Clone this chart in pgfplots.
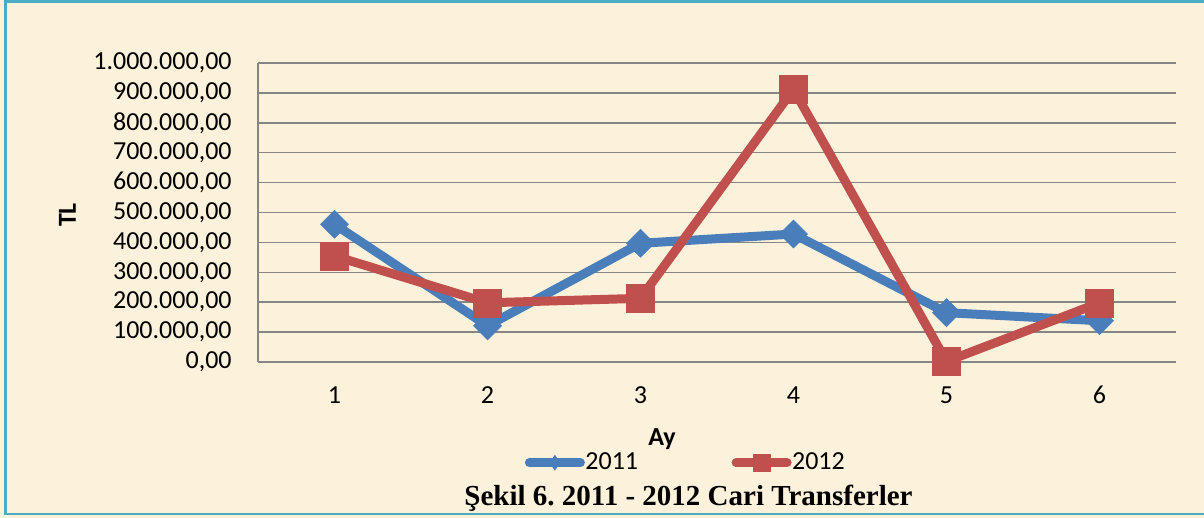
\documentclass[border=0pt]{standalone}
\usepackage{fontspec}
\setmainfont{Liberation Serif}
\newfontfamily\calibri{Carlito}
\usepackage{pgfplots}
\pgfplotsset{compat=1.18}
\definecolor{bgcream}{RGB}{252,242,220}
\definecolor{frameblue}{RGB}{75,172,198}
\definecolor{gridgray}{RGB}{134,134,134}
\definecolor{xlblue}{RGB}{74,126,187}
\definecolor{xlred}{RGB}{192,80,77}
\frenchspacing
\begin{document}
\begin{tikzpicture}
\useasboundingbox (0,0) rectangle (602pt,-259pt);
\fill[bgcream] (0,0) rectangle (602pt,-259pt);
\draw[frameblue, line width=1.3pt] (603pt,-0.75pt) -- (2.75pt,-0.75pt) -- (2.75pt,-257pt) -- (603pt,-257pt);
\begin{axis}[
  at={(129pt,-181pt)}, anchor=south west,
  scale only axis, width=459pt, height=149.5pt,
  xmin=0.5, xmax=6.5, ymin=0, ymax=1000000,
  clip=false,
  axis x line*=bottom, axis y line*=left,
  axis line style={draw=gridgray, line width=0.75pt, -},
  ytick={0,100000,...,1000000},
  xtick={1,2,3,4,5,6},
  xticklabels={1,2,3,4,5,6},
  major tick length=0pt,
  ymajorgrids, grid style={draw=gridgray, line width=0.75pt},
  scaled y ticks=false,
  /pgf/number format/assume math mode=true,
  yticklabel={\pgfmathprintnumber[fixed, fixed zerofill, precision=2, use comma, 1000 sep={.}, assume math mode=true]{\tick}},
  every tick label/.append style={font=\calibri\fontsize{13}{15}\selectfont},
  yticklabel style={anchor=east, inner sep=0pt, xshift=-13pt},
  xticklabel style={anchor=center, inner sep=0pt, yshift=-16.5pt},
  xlabel={Ay}, ylabel={TL},
  every axis x label/.style={at={(axis description cs:0.440,-0.2776)}, anchor=base, font=\calibri\bfseries\fontsize{13}{15}\selectfont},
  every axis y label/.style={at={(axis description cs:-0.2075,0.4916)}, rotate=90, anchor=center, font=\calibri\bfseries\fontsize{13}{15}\selectfont},
  legend columns=2,
  legend style={draw=none, fill=none, inner sep=0pt, at={(0.2903,-0.3368)}, anchor=west,
    font=\calibri\fontsize{13}{15}\selectfont,
    nodes={inner sep=0.25pt},
    /tikz/every even column/.append style={column sep=46.5pt}},
]
\addplot[color=xlblue, line width=4.5pt, mark=square*, mark size=4.95pt,
  mark options={solid, rotate=45, line width=0.3pt, fill=xlblue},
  legend image code/.code={
    \path[draw=xlblue, line width=4.5pt, line cap=round] (2.25pt,0pt) -- (27.75pt,0pt);
    \path[fill=xlblue, draw=none] (15pt,4pt) -- (17.75pt,0pt) -- (15pt,-4pt) -- (12.25pt,0pt) -- cycle;
  }]
  coordinates {(1,460500) (2,121000) (3,397000) (4,428000) (5,165000) (6,138000)};
\addlegendentry{2011}
\addplot[color=xlred, line width=4.5pt, mark=square*, mark size=7pt,
  mark options={solid, line width=0.3pt, fill=xlred},
  legend image code/.code={
    \path[draw=xlred, line width=4.5pt, line cap=round] (2.25pt,0pt) -- (27.75pt,0pt);
    \path[fill=xlred, draw=none] (10.5pt,-4.5pt) rectangle (19.5pt,4.5pt);
  }]
  coordinates {(1,354500) (2,198000) (3,213000) (4,912000) (5,2000) (6,198000)};
\addlegendentry{2012}
\end{axis}
\node[anchor=base, font=\bfseries\fontsize{14.5}{17}\selectfont] at (344.25pt,-252.5pt) {Şekil 6. 2011 - 2012 Cari Transferler};
\end{tikzpicture}
\end{document}
